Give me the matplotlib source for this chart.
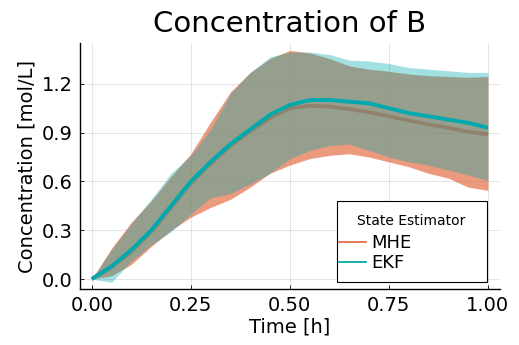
import matplotlib
matplotlib.use("Agg")
import matplotlib.pyplot as plt
from matplotlib.lines import Line2D
from matplotlib.patches import Rectangle

# ---- data ----
time_h = [0.00, 0.05, 0.10, 0.15, 0.20, 0.25, 0.30, 0.35, 0.40, 0.45, 0.50,
          0.55, 0.60, 0.65, 0.70, 0.75, 0.80, 0.85, 0.90, 0.95, 1.00]

mhe_mean  = [0.0, 0.075, 0.17, 0.29, 0.44, 0.59, 0.71, 0.82, 0.91, 0.99, 1.05,
             1.065, 1.06, 1.045, 1.025, 1.0, 0.975, 0.95, 0.93, 0.905, 0.89]
mhe_upper = [0.0, 0.19, 0.35, 0.48, 0.63, 0.77, 0.965, 1.15, 1.27, 1.355, 1.405,
             1.39, 1.355, 1.31, 1.29, 1.277, 1.26, 1.25, 1.245, 1.24, 1.245]
mhe_lower = [0.0, 0.02, 0.09, 0.2, 0.3, 0.38, 0.44, 0.49, 0.565, 0.65, 0.70,
             0.74, 0.76, 0.77, 0.75, 0.72, 0.69, 0.65, 0.62, 0.565, 0.545]

ekf_mean  = [0.0, 0.078, 0.18, 0.30, 0.45, 0.60, 0.72, 0.83, 0.92, 1.01, 1.07,
             1.10, 1.10, 1.09, 1.08, 1.05, 1.02, 1.0, 0.98, 0.96, 0.93]
ekf_upper = [0.0, 0.18, 0.34, 0.49, 0.65, 0.76, 0.92, 1.14, 1.27, 1.365, 1.395,
             1.395, 1.38, 1.345, 1.34, 1.325, 1.30, 1.29, 1.28, 1.27, 1.27]
ekf_lower = [0.0, -0.02, 0.11, 0.21, 0.29, 0.40, 0.50, 0.525, 0.585, 0.65, 0.74,
             0.79, 0.82, 0.83, 0.79, 0.75, 0.72, 0.70, 0.67, 0.64, 0.605]

xticks = [0.0, 0.25, 0.5, 0.75, 1.0]
yticks = [0.0, 0.3, 0.6, 0.9, 1.2]

MHE_C = "#e36f47"
EKF_C = "#00a9ad"

fig = plt.figure(figsize=(5.19, 3.45), dpi=100)
ax = fig.add_axes([0.154, 0.162, 0.809, 0.713])

# draw order as in the original: MHE ribbon, MHE line, EKF ribbon, EKF line
ax.fill_between(time_h, mhe_lower, mhe_upper, color=MHE_C, alpha=0.7, lw=0, zorder=2)
ax.plot(time_h, mhe_mean, color=MHE_C, lw=2.8, solid_capstyle="butt", zorder=3)
ax.fill_between(time_h, ekf_lower, ekf_upper, color=EKF_C, alpha=0.36, lw=0, zorder=4)
ax.plot(time_h, ekf_mean, color=EKF_C, lw=2.8, solid_capstyle="butt", zorder=5)

ax.set_xlim(-0.03, 1.03)
ax.set_ylim(-0.062, 1.45)
ax.set_xticks(xticks)
ax.set_xticklabels([f"{v:.2f}" for v in xticks])
ax.set_yticks(yticks)
ax.set_yticklabels([f"{v:.1f}" for v in yticks])
ax.tick_params(direction="in", length=3, width=0.6, labelsize=14, pad=5)
ax.grid(True, color="black", alpha=0.1, lw=0.8)
ax.set_axisbelow(True)
for s in ["top", "right"]:
    ax.spines[s].set_visible(False)
for s in ["left", "bottom"]:
    ax.spines[s].set_linewidth(1.0)

ax.set_title("Concentration of B", fontsize=21, pad=8)
ax.set_xlabel("Time [h]", fontsize=14, labelpad=2)
ax.set_ylabel("Concentration [mol/L]", fontsize=14, labelpad=4)

# legend: framed box with centred title, entries flush left (Plots.jl style)
box = Rectangle((0.612, 0.028), 0.357, 0.33, transform=ax.transAxes,
                facecolor="white", edgecolor="black", lw=0.8, zorder=10)
ax.add_patch(box)
ax.text(0.79, 0.276, "State Estimator", transform=ax.transAxes, fontsize=10,
        ha="center", va="center", zorder=11)
handles = [Line2D([], [], color=MHE_C, lw=1.3), Line2D([], [], color=EKF_C, lw=1.3)]
leg = ax.legend(handles, ["MHE", "EKF"], loc="upper left",
                bbox_to_anchor=(0.617, 0.223), borderaxespad=0, borderpad=0,
                fontsize=13, frameon=False, handlelength=1.5,
                handletextpad=0.3, labelspacing=0.1)
leg.set_zorder(12)

fig.savefig("out.png", dpi=100)
